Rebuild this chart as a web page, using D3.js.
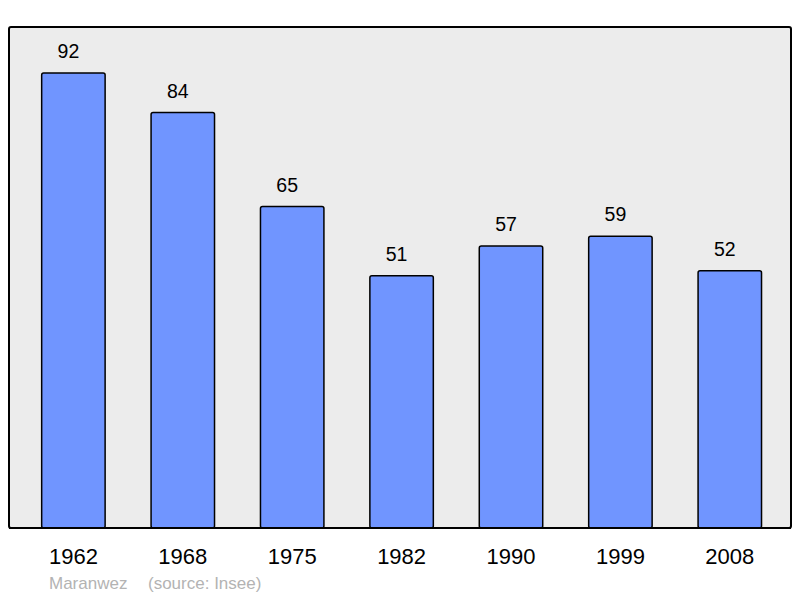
<!DOCTYPE html>
<html><head><meta charset="utf-8">
<script src="https://cdn.jsdelivr.net/npm/d3@7"></script>
<style>html,body{margin:0;padding:0;background:#fff;}svg{display:block;}</style>
</head><body>
<svg id="c" width="800" height="598"></svg>
<script>
const years = ["1962","1968","1975","1982","1990","1999","2008"];
const population = [92,84,65,51,57,59,52];
const credits = ["Maranwez", "(source: Insee)"];

const svg = d3.select("#c");
const frame = {left: 9, top: 27, right: 791, bottom: 528};

const x = d3.scaleBand().domain(years).range([frame.left + 1.6, frame.right + 1.6]).paddingInner(0.42).paddingOuter(0.284);
const y = d3.scaleLinear().domain([0, 101.3]).range([frame.bottom, frame.top]);

svg.append("rect")
  .attr("x", frame.left).attr("y", frame.top)
  .attr("width", frame.right - frame.left).attr("height", frame.bottom - frame.top)
  .attr("rx", 2).attr("fill", "#ececec").attr("stroke", "#000").attr("stroke-width", 2);

const data = years.map((yr, i) => ({year: yr, value: population[i]}));

svg.selectAll("rect.bar").data(data).join("rect")
  .attr("class", "bar")
  .attr("x", d => x(d.year))
  .attr("y", d => y(d.value))
  .attr("width", x.bandwidth())
  .attr("height", d => y(0) - y(d.value))
  .attr("rx", 2)
  .attr("fill", "#7095ff").attr("stroke", "#000").attr("stroke-width", 1.5);

svg.append("line").attr("x1", frame.left).attr("x2", frame.right)
  .attr("y1", frame.bottom).attr("y2", frame.bottom).attr("stroke", "#000").attr("stroke-width", 2);

svg.selectAll("text.val").data(data).join("text")
  .attr("class", "val")
  .attr("x", d => x(d.year) + x.bandwidth()/2 - 5)
  .attr("y", d => y(d.value) - 15)
  .attr("text-anchor", "middle")
  .attr("font-family", "Liberation Sans, Arial, sans-serif")
  .attr("font-size", 19.5).attr("fill", "#000")
  .text(d => d.value);

const xAxis = d3.axisBottom(x).tickSize(0).tickPadding(0);
const gx = svg.append("g").attr("transform", `translate(0,${frame.bottom})`).call(xAxis);
gx.select(".domain").remove();
gx.selectAll("text")
  .attr("y", 36).attr("dy", 0)
  .attr("font-family", "Liberation Sans, Arial, sans-serif")
  .attr("font-size", 22).attr("fill", "#000");

svg.append("text").attr("x", 49).attr("y", 589)
  .attr("font-family", "Liberation Sans, Arial, sans-serif").attr("font-size", 17)
  .attr("fill", "#b3b3b3").text(credits[0]);
svg.append("text").attr("x", 148).attr("y", 589)
  .attr("font-family", "Liberation Sans, Arial, sans-serif").attr("font-size", 17)
  .attr("fill", "#b3b3b3").text(credits[1]);
</script>
</body></html>
